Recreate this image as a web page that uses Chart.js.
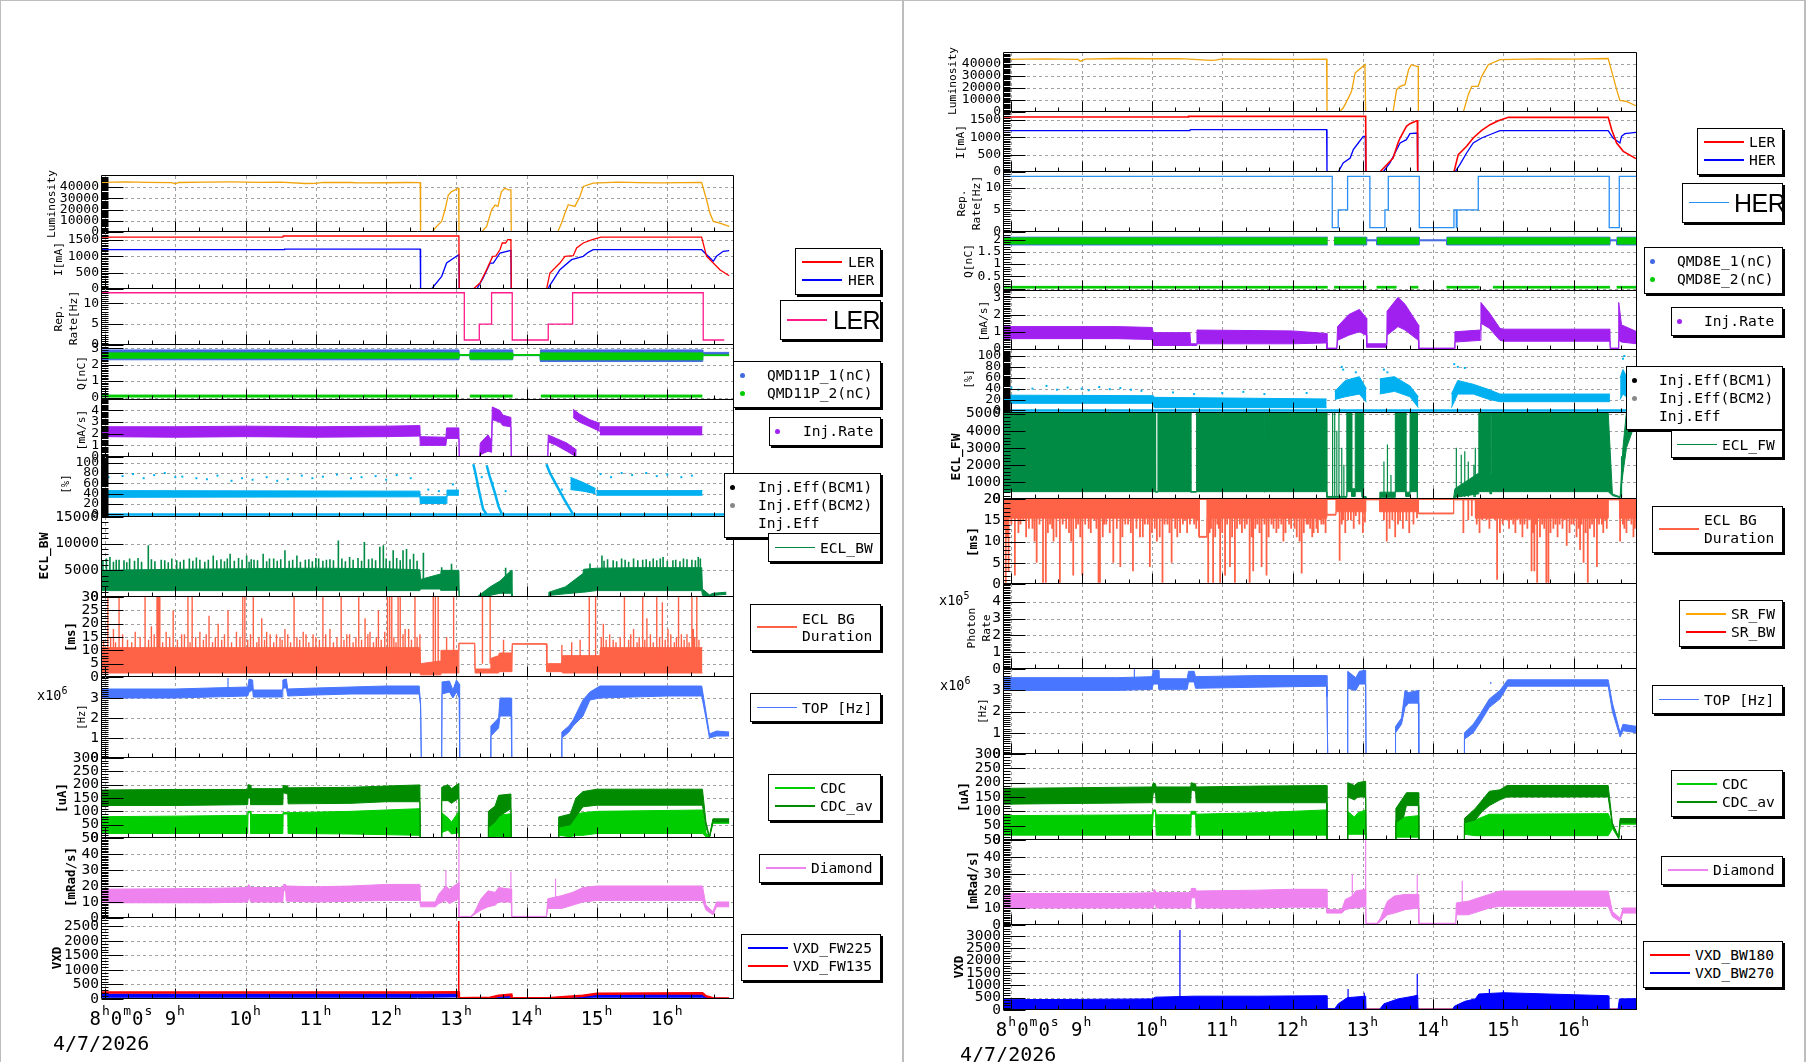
<!DOCTYPE html>
<html>
<head>
<meta charset="utf-8">
<script src="https://cdn.jsdelivr.net/npm/chart.js@4.4.1/dist/chart.umd.min.js"></script>
<style>
  body { margin:0; width:1806px; height:1062px; position:relative; overflow:hidden; background:#fff; font-family:"DejaVu Sans Mono", monospace; }
  canvas { position:absolute; }
  .edge { position:absolute; background:#bdbdbd; }
  .ytitle { position:absolute; white-space:pre; text-align:center; line-height:1.3; transform:translate(-50%,-50%) rotate(-90deg); color:#000; }
  .leg { position:absolute; box-sizing:border-box; background:#fff; border:1px solid #000; box-shadow:2px 2px 0 #000; }
  .lt { position:absolute; white-space:pre; line-height:1; transform:translateY(-50%); font-size:14.6px; color:#000; }
  .mul { position:absolute; font-size:13.5px; line-height:1; }
  .mul sup { font-size:10px; vertical-align:6px; }
</style>
</head>
<body>
<script>
// ---- time range of each column (hours) and hour labels ----
const tRangeL = [7.943, 16.949];
const tRangeR = [7.881, 16.90];
const hourLabels = [9, 10, 11, 12, 13, 14, 15, 16];
const dateLabel = '4/7/2026';

// ---- y tick labels ----
const yLum = [0, 10000, 20000, 30000, 40000];
const yCur = [0, 500, 1000, 1500];
const yRep = [0, 5, 10];
const yQL = [0, 1, 2, 3];
const yQR = [0, 0.5, 1, 1.5, 2];
const yInjL = [0, 1, 2, 3, 4];
const yInjR = [0, 1, 2, 3];
const yEff = [0, 20, 40, 60, 80, 100];
const yEclL = [0, 5000, 10000, 15000];
const yEclR = [0, 1000, 2000, 3000, 4000, 5000];
const yDurL = [0, 5, 10, 15, 20, 25, 30];
const yDurR = [0, 5, 10, 15, 20];
const yPhot = [0, 1, 2, 3, 4];
const yTop = [0, 1, 2, 3];
const yCdc = [0, 50, 100, 150, 200, 250, 300];
const yDia = [0, 10, 20, 30, 40, 50];
const yVxdL = [0, 500, 1000, 1500, 2000, 2500];
const yVxdR = [0, 500, 1000, 1500, 2000, 2500, 3000];

// ================= LEFT column =================
const lumL = [[7.943,44300],[8.3,44600],[8.6,44200],[8.95,44000],[9.0,43000],[9.05,44100],[9.4,44500],[9.8,44600],[10.2,44300],[10.5,44400],[10.85,43200],[11.0,43400],[11.1,44300],[11.5,44100],[11.6,43800],[12.0,43900],[12.3,44100],[12.485,44000],[12.49,0],[12.656,0],[12.718,5000],[12.789,9500],[12.837,19800],[12.884,33000],[12.931,36000],[13.03,39000],[13.036,0],[13.358,0],[13.43,5000],[13.5,19800],[13.55,24000],[13.59,22800],[13.64,36000],[13.69,39000],[13.74,37600],[13.775,37600],[13.78,0],[14.44,0],[14.496,8000],[14.544,16900],[14.591,24300],[14.686,22800],[14.757,31700],[14.804,40600],[14.946,43500],[15.3,44400],[15.6,44000],[15.9,43800],[16.2,44000],[16.488,44300],[16.559,28700],[16.606,16900],[16.654,9500],[16.748,8000],[16.881,5000]];
const lerL = [[7.943,1580],[10.53,1580],[10.535,1612],[13.035,1612],[13.04,0],[13.24,0],[13.335,180],[13.43,590],[13.515,990],[13.56,1000],[13.62,1200],[13.652,1400],[13.7,1400],[13.73,1500],[13.775,1500],[13.78,0],[14.283,0],[14.33,487],[14.472,790],[14.544,994],[14.662,1014],[14.71,1247],[14.804,1400],[14.932,1500],[15.056,1580],[16.488,1580],[16.559,994],[16.654,790],[16.748,588],[16.88,405]];
const herL = [[7.943,1197],[10.55,1197],[10.555,1210],[12.485,1210],[12.49,0],[12.647,0],[12.79,385],[12.86,790],[13.0,994],[13.035,1045],[13.04,0],[13.29,0],[13.38,335],[13.48,790],[13.525,790],[13.62,1095],[13.775,1176],[13.78,0],[14.307,0],[14.32,80],[14.472,588],[14.638,892],[14.804,994],[14.875,1115],[14.946,1196],[16.488,1196],[16.583,994],[16.654,842],[16.7,994],[16.796,1146],[16.88,1166]];
const repL = [[7.943,12.5],[13.112,12.5],[13.112,1.2],[13.325,1.2],[13.325,5],[13.5,5],[13.5,12.5],[13.794,12.5],[13.794,1.2],[14.306,1.2],[14.306,5],[14.653,5],[14.653,12.5],[16.511,12.5],[16.511,1.2],[16.81,1.2]];
// [t, lo, hi]
const qL1 = [[7.943,2.3,2.9],[13.036,2.3,2.9],[13.04,2.55,2.6],[13.19,2.55,2.6],[13.195,2.3,2.9],[13.8,2.3,2.9],[13.805,2.55,2.6],[14.19,2.55,2.6],[14.195,2.2,2.9],[16.5,2.2,2.9],[16.505,2.6,2.75],[16.88,2.6,2.75]];
const qL2 = [[7.943,2.4,2.72],[13.036,2.4,2.72],[13.04,2.57,2.62],[13.19,2.57,2.62],[13.195,2.35,2.72],[13.8,2.35,2.72],[13.805,2.57,2.62],[14.19,2.57,2.62],[14.195,2.3,2.72],[16.5,2.3,2.72],[16.505,2.55,2.6],[16.88,2.55,2.6]];
const qL2low = [[7.943,0.03,0.15],[13.035,0.03,0.15],[13.04,null,null],[13.19,null,null],[13.19,0.03,0.15],[13.8,0.03,0.15],[13.805,null,null],[14.2,null,null],[14.2,0.03,0.15],[16.5,0.03,0.15]];
const injL = [[7.943,1.75,2.6],[9.0,1.7,2.6],[10.0,1.75,2.65],[11.0,1.7,2.6],[12.0,1.75,2.65],[12.48,1.8,2.7],[12.485,1.0,1.75],[12.85,1.0,1.7],[12.86,1.6,2.5],[13.035,1.6,2.5],[13.04,0,0.05],[13.33,0,0.05],[13.34,0.2,1.2],[13.45,0.5,1.9],[13.5,0.4,1.4],[13.51,3.2,4.3],[13.62,3.0,4.0],[13.66,2.7,3.6],[13.775,2.6,3.4],[13.78,0,0.05],[14.3,0,0.05],[14.306,1.3,1.9],[14.42,1.0,1.6],[14.57,0.5,1.2],[14.71,0,0.6],[14.72,null,null],[15.04,null,null],[15.04,1.9,2.6],[16.5,1.9,2.6]];
const injL2 = [[14.66,3.4,4.1],[14.75,3.0,3.7],[14.9,2.6,3.2],[15.04,2.2,2.9]];
const effL = [[7.943,33,46],[12.48,34,45],[12.485,21,34],[12.86,21,34],[12.865,37,47],[13.035,37,47],[13.04,null,null],[14.99,null,null],[14.99,37,46],[16.5,37,46]];
const effLc = [[14.62,48,72],[14.8,45,62],[14.98,40,50]];
const effLs1 = [[13.24,97],[13.27,80],[13.33,40],[13.38,10],[13.43,0]];
const effLs2 = [[13.43,95],[13.47,75],[13.55,40],[13.6,15],[13.65,0]];
const effLs3 = [[14.28,97],[14.33,80],[14.45,50],[14.55,25],[14.66,0]];
const effLbase = [[7.943,0],[16.84,0]];
const effLdots = [[8.05,72],[8.25,74],[8.4,78],[8.55,70],[8.7,76],[8.85,80],[9.0,72],[9.1,73],[9.3,70],[9.45,68],[9.6,75],[9.8,65],[9.95,70],[10.1,67],[10.3,72],[10.45,65],[10.6,68],[10.8,75],[10.95,70],[11.1,73],[11.3,77],[11.5,70],[11.65,72],[11.85,74],[12.0,67],[12.15,76],[12.35,70],[12.6,48],[12.75,45],[12.95,58],[13.3,55],[13.36,72],[13.52,60],[13.7,45],[14.4,62],[14.5,48],[15.05,78],[15.2,72],[15.35,80],[15.5,76],[15.7,80],[15.85,74],[16.0,77],[16.2,72],[16.35,75]];
const eclL = [[7.943,1200,5000],[9.0,1200,5200],[10.0,1200,5300],[11.0,1200,5400],[12.0,1200,5300],[12.48,1200,5100],[12.49,1500,3300],[12.77,1500,4300],[12.78,1250,5000],[13.035,1250,5000],[13.04,0,0],[13.29,0,0],[13.35,100,600],[13.48,300,1900],[13.62,700,3000],[13.78,700,5000],[13.79,0,0],[14.31,0,0],[14.315,300,900],[14.55,600,1900],[14.8,900,4400],[14.81,900,5200],[14.99,1200,5400],[15.5,1200,5500],[16.0,1200,5500],[16.49,1200,5500],[16.5,300,1500],[16.6,100,400],[16.65,300,700],[16.84,500,900]];
const eclLspk = [[7.97,6800],[8.02,7200],[8.07,7500],[8.12,6600],[8.16,7000],[8.2,7000],[8.27,6900],[8.31,6500],[8.35,7200],[8.42,6800],[8.47,7300],[8.52,6600],[8.616,9690],[8.66,7100],[8.71,6700],[8.8,7000],[8.85,6900],[8.9,6500],[8.95,7200],[9.02,6900],[9.07,6600],[9.12,7000],[9.2,7200],[9.25,6800],[9.3,7400],[9.35,7000],[9.42,6600],[9.47,7000],[9.54,7800],[9.59,6900],[9.65,7100],[9.7,6700],[9.74,7200],[9.78,8100],[9.84,6800],[9.9,7300],[9.95,7000],[10.015,7800],[10.05,6600],[10.08,7100],[10.12,7000],[10.17,6900],[10.25,8100],[10.3,6700],[10.34,7200],[10.4,7200],[10.45,6800],[10.5,7100],[10.56,8750],[10.62,6800],[10.67,7000],[10.73,7800],[10.78,6600],[10.85,7000],[10.9,7100],[10.95,6700],[11.0,7300],[11.04,7200],[11.1,6800],[11.15,7000],[11.2,7100],[11.25,6900],[11.32,10600],[11.37,7200],[11.42,6700],[11.48,7500],[11.53,7000],[11.6,7300],[11.65,6800],[11.69,10300],[11.75,7100],[11.8,7200],[11.85,6900],[11.91,9400],[11.96,9700],[12.0,7200],[12.05,6800],[12.1,8750],[12.15,7300],[12.2,6900],[12.24,8750],[12.29,9000],[12.34,7100],[12.39,8100],[12.44,6800],[12.53,8300],[12.79,5600],[12.93,6250],[13.7,5500],[14.9,6300],[15.07,7800],[15.1,6800],[15.15,7100],[15.23,6900],[15.28,6700],[15.35,7200],[15.4,7000],[15.45,6600],[15.52,7200],[15.58,6900],[15.65,7000],[15.7,7100],[15.75,6700],[15.8,7200],[15.85,6900],[15.9,7200],[15.94,7500],[16.0,6800],[16.08,6900],[16.12,7000],[16.18,6700],[16.23,7200],[16.28,7100],[16.35,7000],[16.4,6900],[16.44,7500],[16.47,7200]];
const durL = [[7.943,1.5,11],[12.48,1.5,11],[12.49,0.8,5],[12.77,0.8,6],[12.78,1.5,10],[13.03,1.5,10],[13.035,12.5,12.7],[13.26,12.5,12.7],[13.265,1.5,3],[13.48,1.5,3],[13.49,1.5,7],[13.6,1.5,8],[13.61,2,9],[13.79,2,9],[13.795,12.3,12.5],[14.28,12.3,12.5],[14.285,2,5],[14.5,2,5],[14.51,1.5,8],[15.04,1.5,8],[15.05,1.5,11],[16.5,1.5,11]];
const durLspk = [[7.98,14],[8.04,30],[8.08,15],[8.12,18],[8.15,13],[8.2,30],[8.25,16],[8.32,14],[8.38,13],[8.43,17],[8.5,15],[8.57,30],[8.62,14],[8.66,19],[8.7,16],[8.74,30],[8.76,30],[8.78,30],[8.82,13],[8.87,17],[8.92,15],[8.97,25],[9.03,14],[9.09,16],[9.13,16],[9.18,30],[9.21,13],[9.24,30],[9.29,15],[9.35,17],[9.4,14],[9.44,16],[9.48,23],[9.53,13],[9.57,15],[9.61,20],[9.66,14],[9.7,16],[9.75,25],[9.8,13],[9.87,17],[9.92,15],[9.96,30],[9.99,30],[10.03,14],[10.07,16],[10.11,30],[10.16,13],[10.19,15],[10.23,22],[10.27,14],[10.3,17],[10.35,16],[10.4,13],[10.44,16],[10.49,15],[10.52,14],[10.56,18],[10.6,16],[10.64,13],[10.69,30],[10.73,15],[10.77,14],[10.82,17],[10.86,16],[10.9,13],[10.96,16],[11.0,15],[11.05,14],[11.1,30],[11.14,16],[11.2,18],[11.25,13],[11.3,15],[11.36,30],[11.4,14],[11.44,16],[11.48,16],[11.53,13],[11.57,15],[11.61,30],[11.65,14],[11.7,22],[11.74,16],[11.77,17],[11.82,13],[11.86,15],[11.89,25],[11.93,14],[11.98,17],[12.02,30],[12.05,30],[12.08,30],[12.11,15],[12.14,13],[12.17,30],[12.2,30],[12.24,16],[12.27,18],[12.32,18],[12.36,14],[12.41,30],[12.44,15],[12.48,16],[12.67,30],[12.7,30],[12.74,30],[12.86,15],[12.96,30],[13.37,30],[13.48,30],[13.67,14],[14.5,12],[14.64,13],[14.76,14],[14.89,30],[14.98,30],[15.06,15],[15.09,20],[15.13,14],[15.18,16],[15.23,14],[15.27,13],[15.33,15],[15.39,30],[15.45,14],[15.48,16],[15.52,18],[15.57,13],[15.6,15],[15.65,30],[15.68,14],[15.71,22],[15.76,16],[15.8,13],[15.85,30],[15.89,15],[15.93,28],[15.97,14],[16.01,18],[16.05,16],[16.1,13],[16.13,15],[16.16,30],[16.2,16],[16.24,14],[16.28,16],[16.31,13],[16.35,30],[16.37,18],[16.39,15],[16.42,30],[16.45,14]];
// TOP in units of 1e6 Hz
const topL = [[7.943,3.0,3.45],[9.0,3.0,3.45],[9.5,3.05,3.5],[10.03,3.1,3.55],[10.05,3.3,3.95],[10.1,3.4,3.9],[10.11,3.05,3.4],[10.52,3.05,3.4],[10.53,3.5,3.9],[10.58,3.5,3.95],[10.6,3.1,3.45],[11.0,3.15,3.5],[11.5,3.2,3.55],[12.0,3.2,3.6],[12.47,3.2,3.6],[12.49,2.6,2.7],[12.5,0,0],[12.79,0,0],[12.795,3.2,3.8],[12.9,3.3,3.85],[12.95,3.0,3.4],[13.0,3.3,3.9],[13.04,3.0,3.7],[13.045,0,0],[13.48,0,0],[13.49,1.1,1.6],[13.6,1.5,2.0],[13.62,2.1,3.0],[13.78,2.1,3.0],[13.785,0,0],[14.49,0,0],[14.5,1.0,1.3],[14.6,1.3,1.6],[14.66,1.6,1.9],[14.8,2.1,2.9],[14.9,2.9,3.3],[15.04,3.0,3.6],[15.5,3.05,3.6],[16.0,3.1,3.6],[16.49,3.1,3.6],[16.55,2.0,2.3],[16.6,1.0,1.2],[16.7,1.1,1.35],[16.88,1.1,1.3]];
const topLspk = [[9.75,4.0]];
const cdcavL = [[7.943,122,180],[9.0,122,182],[10.03,125,182],[10.035,150,200],[10.07,150,198],[10.075,125,185],[10.53,125,185],[10.535,170,197],[10.6,165,195],[10.605,128,188],[11.5,130,190],[12.0,136,195],[12.48,136,199],[12.485,0,0],[12.787,0,0],[12.79,140,190],[12.88,140,200],[12.93,130,185],[13.035,150,205],[13.04,0,0],[13.45,0,0],[13.455,40,100],[13.55,60,120],[13.6,80,160],[13.775,110,165],[13.78,0,0],[14.45,0,0],[14.455,41,79],[14.62,50,90],[14.7,80,150],[14.8,117,174],[15.0,123,183],[16.5,123,183],[16.55,40,60],[16.6,2,5],[16.65,60,72],[16.88,60,72]];
const cdcL = [[7.943,17,80],[9.0,17,82],[10.03,17,85],[10.035,95,100],[10.07,95,100],[10.075,17,88],[10.53,17,88],[10.535,90,96],[10.6,90,96],[10.605,17,95],[11.5,15,100],[12.48,10,110],[12.485,0,0],[12.787,0,0],[12.79,20,95],[12.88,30,75],[12.93,15,60],[13.035,20,100],[13.04,0,0],[13.45,0,0],[13.455,3,70],[13.6,5,85],[13.775,3,91],[13.78,0,0],[14.45,0,0],[14.455,10,65],[14.62,5,70],[14.7,10,90],[14.8,10,95],[15.0,17,100],[16.5,17,105],[16.55,5,20],[16.6,2,5],[16.65,55,70],[16.88,55,70]];
const diaL = [[7.943,9.5,18],[9.5,9.5,18.5],[10.03,10,19],[10.04,12,21],[10.06,12,20],[10.07,10,19],[10.53,10,19],[10.54,17,21],[10.57,17,21],[10.58,10.5,20],[11.0,10,19.5],[11.5,10.5,20],[12.0,11,21],[12.48,11,21],[12.49,7,10],[12.7,7,10],[12.75,9,15],[12.85,11,20],[12.9,9,18],[13.03,12,22],[13.035,0.5,1],[13.2,0.5,1],[13.25,2,3],[13.35,5,12],[13.45,7,17],[13.55,8,16],[13.6,10,19],[13.78,10,18],[13.785,0.5,1],[14.28,0.5,1],[14.3,6,12],[14.5,6,14],[14.65,8,16],[14.8,10,19],[15.0,11,20],[16.5,11,20],[16.55,5,8],[16.65,2,4],[16.7,7,10],[16.88,7,10]];
const diaLspk = [[12.85,30],[13.035,50],[13.775,29],[14.41,24.6]];
const vxdLblue = [[7.943,60,170],[12.48,60,175],[13.03,70,180],[13.035,20,30],[13.48,20,40],[13.5,40,80],[13.78,60,130],[13.785,20,30],[14.3,20,30],[14.45,30,60],[14.8,50,100],[14.95,60,150],[16.5,60,150],[16.6,20,40],[16.88,10,20]];
const vxdLred = [[7.943,225],[12.48,225],[13.03,230],[13.035,30],[13.48,40],[13.6,110],[13.78,150],[13.785,25],[14.3,25],[14.5,60],[14.8,110],[15.0,180],[16.5,200],[16.55,100],[16.65,30],[16.88,20]];
const vxdLspk = [[13.033,2680]];

// ================= RIGHT column =================
const lumR = [[7.881,43600],[8.5,44000],[8.95,43500],[8.98,42000],[9.05,43800],[9.5,44300],[10.0,44100],[10.4,44200],[10.85,42800],[10.92,43200],[11.0,44000],[11.5,43700],[12.0,43500],[12.485,43800],[12.49,0],[12.665,0],[12.72,3300],[12.77,8800],[12.84,17100],[12.89,32300],[12.935,34500],[13.03,39200],[13.04,0],[13.43,0],[13.48,18500],[13.53,21250],[13.6,22600],[13.65,35000],[13.69,39200],[13.765,37800],[13.788,37800],[13.79,0],[14.43,0],[14.5,14350],[14.55,21250],[14.64,21250],[14.69,29500],[14.785,39200],[14.95,43300],[15.5,44000],[16.0,43800],[16.49,44300],[16.56,29500],[16.61,18500],[16.657,9660],[16.75,8800],[16.885,5200]];
const lerR = [[7.881,1577],[10.517,1577],[10.52,1596],[13.04,1596],[13.045,0],[13.243,0],[13.34,210],[13.43,400],[13.5,832],[13.53,975],[13.62,1310],[13.67,1386],[13.765,1472],[13.775,1472],[13.78,0],[14.296,0],[14.357,497],[14.476,736],[14.57,975],[14.69,1195],[14.81,1357],[14.926,1472],[15.07,1568],[16.49,1568],[16.54,1214],[16.61,832],[16.705,593],[16.885,382]];
const herR = [[7.881,1185],[10.54,1185],[10.545,1214],[12.485,1214],[12.49,0],[12.65,0],[12.72,258],[12.82,400],[12.864,640],[12.935,832],[13.006,1023],[13.035,1023],[13.04,0],[13.29,0],[13.385,258],[13.48,640],[13.53,832],[13.62,927],[13.67,1100],[13.775,1118],[13.78,0],[14.31,0],[14.38,210],[14.476,545],[14.57,832],[14.69,975],[14.83,1090],[14.95,1185],[16.49,1185],[16.56,975],[16.657,832],[16.68,1023],[16.728,1100],[16.885,1138]];
const repR = [[7.881,12.5],[12.565,12.5],[12.565,1],[12.65,1],[12.65,5],[12.783,5],[12.783,12.5],[13.1,12.5],[13.1,1],[13.314,1],[13.314,5],[13.362,5],[13.362,12.5],[13.803,12.5],[13.803,1],[14.296,1],[14.296,5],[14.33,5],[14.33,1],[14.34,1],[14.34,5],[14.642,5],[14.642,12.5],[16.505,12.5],[16.505,1],[16.648,1],[16.648,12.5],[16.9,12.5]];
const qR1 = [[7.881,1.78,2.1],[12.5,1.78,2.1],[12.505,null,null],[12.59,null,null],[12.59,1.78,2.1],[13.05,1.78,2.1],[13.055,1.95,1.99],[13.195,1.95,1.99],[13.2,1.78,2.1],[13.8,1.78,2.1],[13.805,1.95,1.99],[14.19,1.95,1.99],[14.195,1.78,2.1],[16.515,1.78,2.1],[16.52,1.95,1.99],[16.61,1.95,1.99],[16.615,1.78,2.1],[16.9,1.78,2.1]];
const qR2 = [[7.881,1.82,2.07],[12.5,1.82,2.07],[12.505,null,null],[12.59,null,null],[12.59,1.82,2.07],[13.05,1.82,2.07],[13.055,null,null],[13.195,null,null],[13.2,1.82,2.07],[13.8,1.82,2.07],[13.805,null,null],[14.19,null,null],[14.195,1.82,2.07],[16.515,1.82,2.07],[16.52,null,null],[16.61,null,null],[16.615,1.82,2.07],[16.9,1.82,2.07]];
const qR2low = [[7.881,0.02,0.09],[12.5,0.02,0.09],[12.505,null,null],[12.59,null,null],[12.59,0.02,0.09],[13.05,0.02,0.09],[13.06,null,null],[13.195,null,null],[13.195,0.02,0.09],[13.48,0.02,0.09],[13.49,null,null],[13.67,null,null],[13.67,0.02,0.09],[13.79,0.02,0.09],[13.8,null,null],[14.19,null,null],[14.19,0.02,0.09],[14.66,0.02,0.09],[14.67,null,null],[14.85,null,null],[14.85,0.02,0.09],[16.515,0.02,0.09],[16.52,null,null],[16.61,null,null],[16.61,0.02,0.09],[16.9,0.02,0.09]];
const injR = [[7.885,0.6,1.3],[9.5,0.6,1.3],[10.0,0.55,1.25],[10.02,0.2,0.95],[10.54,0.2,0.95],[10.55,0.2,0.3],[10.63,0.2,0.3],[10.64,0.3,1.1],[12.0,0.3,1.05],[12.485,0.35,0.9],[12.49,0,0.05],[12.63,0,0.05],[12.64,0.5,1.3],[12.8,0.8,2.0],[12.95,1.0,2.3],[13.05,0.8,1.8],[13.055,0.1,0.3],[13.34,0.1,0.3],[13.345,0.8,2.2],[13.5,1.3,3.0],[13.6,1.1,2.6],[13.79,0.5,1.4],[13.795,0,0.05],[14.3,0,0.05],[14.31,0.4,1.0],[14.67,0.5,1.1],[14.68,1.5,2.7],[14.8,1.2,2.1],[14.95,0.5,1.2],[15.0,0.45,1.15],[16.515,0.45,1.15],[16.52,0,0.05],[16.63,0,0.05],[16.64,0.5,2.7],[16.68,0.4,1.4],[16.9,0.3,1.0]];
const effR = [[7.885,13,28],[10.02,13,27],[10.03,5,24],[12.485,5,21],[12.49,null,null],[12.6,20,35],[12.75,25,55],[12.95,30,62],[13.05,15,40],[13.055,null,null],[13.24,30,58],[13.45,35,62],[13.67,25,45],[13.79,5,25],[13.795,null,null],[14.26,5,30],[14.35,30,55],[14.57,30,48],[14.8,20,38],[14.95,16,30],[16.515,16,30],[16.52,null,null],[16.66,20,60],[16.7,30,75],[16.8,20,50],[16.88,10,30]];
const effRbase = [[7.881,0],[16.9,0]];
const effRdots = [[8.0,42],[8.1,38],[8.3,40],[8.5,45],[8.65,38],[8.8,42],[9.0,40],[9.1,37],[9.25,43],[9.4,39],[9.55,41],[9.7,38],[9.85,36],[10.3,33],[10.6,30],[11.0,32],[11.3,34],[11.6,30],[12.2,32],[12.7,80],[12.72,75],[12.9,70],[13.3,75],[13.35,70],[14.3,85],[14.35,80],[14.45,78],[16.7,95],[16.72,100]];
const eclR = [[7.885,430,5100],[10.05,430,5100],[10.052,400,440],[10.083,400,440],[10.085,430,5100],[10.55,430,5100],[10.553,400,440],[10.633,400,440],[10.635,430,5100],[11.595,430,5100],[11.597,400,440],[11.605,400,440],[11.607,430,5100],[12.485,430,5100],[12.487,100,150],[12.77,100,150],[12.772,430,5100],[12.84,430,5100],[12.842,150,600],[12.89,150,600],[12.892,430,5100],[12.99,430,5100],[12.992,100,150],[13.04,100,150],[13.042,0,20],[13.24,0,20],[13.242,100,400],[13.46,100,400],[13.462,430,5100],[13.61,430,5100],[13.612,150,400],[13.67,150,400],[13.672,430,5100],[13.775,430,5100],[13.777,0,20],[14.29,0,20],[14.31,100,600],[14.64,300,1500],[14.65,430,5100],[14.81,430,5100],[14.812,300,1500],[14.83,300,1500],[14.832,430,5100],[16.49,430,5100],[16.55,200,300],[16.66,80,120],[16.7,1500,3000],[16.75,3000,5100],[16.88,4500,5100]];
const eclRspk = [[12.57,5100],[12.6,5100],[12.63,4000],[12.66,5100],[12.7,3000],[12.73,2000],[13.01,5100],[13.3,2200],[13.35,3200],[13.4,1400],[14.33,3000],[14.4,2600],[14.45,2800],[14.5,2200],[14.58,2000],[14.6,3000],[16.68,2500]];
const durR = [[7.885,15.5,20],[10.67,15.5,20],[10.672,11,11.2],[10.78,11,11.2],[10.782,15.5,20],[12.485,15.5,20],[12.487,16.2,16.4],[12.615,16.2,16.4],[12.617,17,20],[13.04,17,20],[13.042,19.8,20],[13.24,19.8,20],[13.242,17,20],[13.79,17,20],[13.792,16.5,16.7],[14.29,16.5,16.7],[14.292,19.8,20],[14.6,19.8,20],[14.602,15.5,20],[16.49,15.5,20],[16.492,19.8,20],[16.65,19.8,20],[16.652,15.5,20],[16.9,15.5,20]];
const durRspk = [[7.9,13],[7.92,0.3],[7.94,11],[7.96,3],[8.0,14],[8.05,2],[8.1,12],[8.13,14],[8.17,15],[8.21,11],[8.25,13],[8.3,13],[8.33,10],[8.36,5],[8.4,14],[8.45,0.3],[8.49,0.3],[8.52,12],[8.55,14],[8.58,13],[8.6,10],[8.64,11],[8.69,0.3],[8.73,14],[8.78,13],[8.82,12],[8.85,10],[8.88,2],[8.92,13],[8.95,14],[8.98,11],[9.01,2],[9.05,14],[9.1,13],[9.13,12],[9.18,15],[9.21,13],[9.24,0.3],[9.26,0.3],[9.3,11],[9.32,14],[9.35,14],[9.4,12],[9.45,5],[9.5,13],[9.55,4],[9.58,11],[9.62,14],[9.66,14],[9.7,12],[9.73,3],[9.78,13],[9.83,11],[9.87,11],[9.9,14],[9.94,14],[9.97,4],[10.0,12],[10.04,13],[10.07,10],[10.11,11],[10.15,0.3],[10.18,14],[10.22,14],[10.25,12],[10.28,5],[10.33,13],[10.36,11],[10.4,12],[10.44,14],[10.47,15],[10.5,12],[10.54,14],[10.6,14],[10.63,13],[10.65,15],[10.8,0.3],[10.82,12],[10.84,13],[10.87,0.3],[10.9,11],[10.93,14],[10.95,13],[10.97,0.3],[11.0,12],[11.04,2],[11.07,14],[11.11,4],[11.14,11],[11.18,0.3],[11.21,13],[11.25,14],[11.28,12],[11.32,13],[11.35,14],[11.39,0.3],[11.42,11],[11.44,3],[11.47,13],[11.5,14],[11.53,12],[11.56,4],[11.6,14],[11.63,2],[11.66,11],[11.7,14],[11.73,13],[11.77,12],[11.8,13],[11.84,14],[11.87,10],[11.9,12],[11.95,14],[11.98,13],[12.03,13],[12.06,11],[12.1,10],[12.13,2.5],[12.16,12],[12.2,14],[12.22,14],[12.25,13],[12.28,11],[12.3,12],[12.34,13],[12.36,12],[12.39,15],[12.41,14],[12.44,14],[12.47,12],[12.67,5.5],[12.7,14],[12.72,15],[12.75,12],[12.79,15],[12.83,15],[12.87,13],[12.9,16],[12.95,14],[13.0,12],[13.03,14.5],[13.3,15],[13.34,10],[13.38,13],[13.42,15],[13.46,11],[13.5,14],[13.53,15],[13.57,13],[13.62,15],[13.66,12],[13.72,14],[13.77,15.5],[14.43,12],[14.5,15],[14.55,16],[14.62,14],[14.66,12],[14.7,15],[14.76,15],[14.8,13],[14.85,16],[14.88,15],[14.91,1],[14.95,12],[14.99,14],[15.02,15],[15.05,15],[15.08,13],[15.11,15],[15.14,14],[15.17,12],[15.2,15],[15.24,14],[15.27,11],[15.3,14],[15.34,13],[15.37,15],[15.4,3],[15.42,12],[15.44,3],[15.46,14],[15.48,0.3],[15.52,11],[15.55,14],[15.58,13],[15.61,0.3],[15.64,0.3],[15.67,12],[15.71,13],[15.74,14],[15.77,11],[15.8,14],[15.84,13],[15.87,15],[15.9,9],[15.94,12],[15.97,14],[16.0,14],[16.04,11],[16.07,13],[16.09,8],[16.11,14],[16.14,5],[16.17,12],[16.2,0.3],[16.23,13],[16.26,14],[16.29,11],[16.33,4],[16.36,14],[16.4,14],[16.42,12],[16.45,15],[16.47,13],[16.66,10],[16.7,14],[16.72,13],[16.75,12],[16.78,15],[16.82,14],[16.85,11],[16.87,13]];
// photon rate in units of 1e5
const srFw = [[7.881,0],[16.9,0]];
const srBw = [[7.881,0],[16.9,0]];
const topR = [[7.885,3.0,3.6],[9.5,3.0,3.6],[10.0,3.05,3.65],[10.02,3.3,3.95],[10.09,3.3,3.95],[10.1,3.05,3.55],[10.5,3.05,3.55],[10.52,3.4,3.9],[10.6,3.4,3.9],[10.62,3.1,3.65],[11.5,3.15,3.7],[12.485,3.2,3.7],[12.49,2.7,2.75],[12.5,0,0],[12.78,0,0],[12.785,3.1,3.9],[12.9,3.0,3.6],[12.95,3.3,3.9],[13.04,3.3,3.95],[13.045,0,0],[13.46,0,0],[13.465,1.0,1.3],[13.55,1.4,1.7],[13.6,2.2,3.0],[13.65,2.4,2.9],[13.79,2.4,3.0],[13.795,0,0],[14.44,0,0],[14.445,0.7,1.0],[14.57,1.0,1.4],[14.67,1.5,1.9],[14.8,2.2,2.6],[14.95,2.6,3.0],[15.06,3.2,3.5],[16.49,3.2,3.5],[16.55,2.0,2.4],[16.66,0.8,1.0],[16.7,1.1,1.4],[16.9,1.0,1.3]];
const topRspk = [[9.75,4.0],[14.82,3.4]];
const cdcavR = [[7.885,125,180],[10.0,130,185],[10.02,165,200],[10.05,165,195],[10.06,130,185],[10.55,130,185],[10.56,175,200],[10.62,170,195],[10.63,130,185],[11.5,130,188],[12.485,130,190],[12.49,0,0],[12.78,0,0],[12.785,150,200],[12.88,140,190],[12.93,150,200],[13.04,150,205],[13.045,0,0],[13.46,0,0],[13.47,60,110],[13.58,80,150],[13.62,120,165],[13.79,120,165],[13.795,0,0],[14.44,0,0],[14.445,60,75],[14.6,70,110],[14.7,100,140],[14.8,120,170],[14.95,140,175],[15.05,150,190],[16.49,150,190],[16.55,50,60],[16.64,5,10],[16.66,60,75],[16.9,60,75]];
const cdcR = [[7.885,17,85],[10.0,17,88],[10.02,100,105],[10.05,100,105],[10.06,17,88],[10.55,17,88],[10.56,90,100],[10.62,90,100],[10.63,17,90],[11.5,17,95],[12.485,17,105],[12.49,0,0],[12.78,0,0],[12.785,20,100],[12.88,20,80],[12.93,20,95],[13.04,20,105],[13.045,0,0],[13.46,0,0],[13.47,10,70],[13.6,10,80],[13.79,10,85],[13.795,0,0],[14.44,0,0],[14.445,20,60],[14.6,15,70],[14.8,15,90],[14.95,15,90],[16.49,15,92],[16.55,40,55],[16.64,5,10],[16.66,55,70],[16.9,55,70]];
const diaR = [[7.885,10,18.5],[9.5,10,18.5],[10.02,10,19],[10.03,12,21],[10.05,12,20],[10.06,10,19],[10.55,10,19],[10.56,16,21.5],[10.62,16,21.5],[10.63,10,20],[11.5,10,20.5],[12.0,10.5,21],[12.485,10.5,21],[12.49,7,9],[12.7,7,9],[12.75,9,15],[12.85,10,17],[12.9,10,20],[13.04,11,21],[13.045,0.5,1],[13.2,0.5,1],[13.25,2,4],[13.35,6,14],[13.45,7,17],[13.6,9,18],[13.79,10,18],[13.795,0.5,1],[14.32,0.5,1],[14.33,6,13],[14.5,6,14],[14.65,8,16],[14.8,10,18],[14.95,11,20],[16.49,11,20],[16.55,5,8],[16.66,2,4],[16.7,7,10],[16.9,7,10]];
const diaRspk = [[12.85,30],[13.04,50],[13.774,29.4],[14.414,26]];
const vxdRblue = [[7.885,0,420],[9.0,0,430],[10.0,0,450],[10.05,0,520],[10.6,0,560],[11.5,0,560],[12.485,0,580],[12.49,0,50],[12.6,0,50],[12.65,0,250],[12.78,0,500],[13.04,0,560],[13.045,0,30],[13.24,0,30],[13.3,0,250],[13.5,0,450],[13.7,0,550],[13.78,0,600],[13.785,0,30],[14.28,0,30],[14.3,0,150],[14.45,0,350],[14.6,0,450],[14.65,0,650],[15.0,0,700],[16.49,0,580],[16.5,0,30],[16.63,0,30],[16.65,0,450],[16.9,0,460]];
const vxdRred = [[7.885,20],[10.55,20],[10.56,150],[10.6,20],[11.0,60],[12.4,80],[12.485,30],[16.65,30],[16.7,120],[16.9,100]];
const vxdRspk = [[10.398,3240],[12.79,850],[13.02,700],[13.774,1456],[14.8,850],[15.0,800]];

// ---- dataset builders ----
const P = (t, v) => ({ x: t, y: v });
function line(rows, color, w) {
  return { data: rows.map(r => P(r[0], r[1])), borderColor: color, borderWidth: w || 1.3, pointRadius: 0, fill: false };
}
function band(rows, color) {
  return [
    { data: rows.map(r => P(r[0], r[1])), borderColor: color, borderWidth: 1, pointRadius: 0, fill: false },
    { data: rows.map(r => P(r[0], r[2])), borderColor: color, borderWidth: 1, pointRadius: 0, fill: '-1', backgroundColor: color }
  ];
}
// vertical spikes from base to value; "joined" ones walk back along the base line
function spikes(rows, base, color, w, joined) {
  const data = rows.flatMap(r => joined ? [P(r[0], base), P(r[0], r[1]), P(r[0], base)] : [P(r[0], base), P(r[0], r[1]), P(r[0], null)]);
  return { data, borderColor: color, borderWidth: w || 1.2, pointRadius: 0, fill: false };
}
function dots(rows, color) {
  return { data: rows.map(r => P(r[0], r[1])), showLine: false, pointRadius: 1.4, pointStyle: 'rect', pointBackgroundColor: color, pointBorderWidth: 0, borderColor: color };
}

const C = {
  lum: '#f0a30a', ler: '#ff0000', her: '#0000ff', repL: '#ff1a8c', repR: '#2a8ff5',
  q1: '#4169e1', q2: '#00cc00', inj: '#a020f0', eff: '#00b0f0', ecl: '#008b45',
  dur: '#ff6347', top: '#4876ff', cdc: '#00cd00', cdcav: '#008b00', dia: '#ee82ee', sr: '#ffa500'
};

// ---- panels (first dataset is drawn on top) ----
const colL = { x0: 0, left: 101, right: 734, t: tRangeL, dateDx: -48 };
const colR = { x0: 903, left: 1003, right: 1637, t: tRangeR, dateDx: -43 };

const panelsL = [
  { y: [176, 232], r: [0, 49900], ticks: yLum, minor: 10, dash: true, sets: [line(lumL, C.lum)] },
  { y: [232, 289], r: [0, 1734], ticks: yCur, minor: 10, dash: true, sets: [line(lerL, C.ler), line(herL, C.her)] },
  { y: [289, 345], r: [0, 13.4], ticks: yRep, minor: 10, sets: [line(repL, C.repL)] },
  { y: [345, 400], r: [-0.15, 3.2], ticks: yQL, minor: 10, sets: [band(qL2, C.q2), band(qL2low, C.q2), band(qL1, C.q1)] },
  { y: [400, 457], r: [0, 4.9], ticks: yInjL, minor: 10, sets: [band(injL2, C.inj), band(injL, C.inj)] },
  { y: [457, 517], r: [-5, 111], ticks: yEff, minor: 10, sets: [dots(effLdots, C.eff), line(effLs1, C.eff, 2.5), line(effLs2, C.eff, 2.5), line(effLs3, C.eff, 2.5), line(effLbase, C.eff, 2.5), band(effLc, C.eff), band(effL, C.eff)] },
  { y: [517, 597], r: [0, 15000], ticks: yEclL, minor: 5, big: true, sets: [spikes(eclLspk, 3000, C.ecl, 1.6), band(eclL, C.ecl)] },
  { y: [597, 677], r: [0, 30], ticks: yDurL, minor: 5, big: true, sets: [spikes(durLspk, 5, C.dur, 1.4), band(durL, C.dur)] },
  { y: [677, 758], r: [0, 4.05], ticks: yTop, minor: 10, big: true, sets: [spikes(topLspk, 3.3, C.top), band(topL, C.top)] },
  { y: [758, 838], r: [0, 300], ticks: yCdc, minor: 5, big: true, sets: [band(cdcavL, C.cdcav), band(cdcL, C.cdc)] },
  { y: [838, 918], r: [0, 50], ticks: yDia, minor: 10, big: true, sets: [spikes(diaLspk, 12, C.dia), band(diaL, C.dia)] },
  { y: [918, 999], r: [0, 2783], ticks: yVxdL, minor: 5, big: true, time: true, sets: [spikes(vxdLspk, 200, C.ler, 1.5), line(vxdLred, C.ler, 2.5), band(vxdLblue, C.her)] }
];

const panelsR = [
  { y: [53, 112], r: [0, 48860], ticks: yLum, minor: 10, dash: true, sets: [line(lumR, C.lum)] },
  { y: [112, 172], r: [0, 1721], ticks: yCur, minor: 10, dash: true, sets: [line(lerR, C.ler, 1.6), line(herR, C.her)] },
  { y: [172, 232], r: [0, 13.5], ticks: yRep, minor: 10, dash: true, sets: [line(repR, C.repR)] },
  { y: [232, 291], r: [-0.1, 2.31], ticks: yQR, minor: 5, sets: [band(qR2low, C.q2), band(qR2, C.q2), band(qR1, C.q1)] },
  { y: [291, 350], r: [-0.06, 3.37], ticks: yInjR, minor: 10, sets: [band(injR, C.inj)] },
  { y: [350, 413], r: [-4.8, 111], ticks: yEff, minor: 10, sets: [dots(effRdots, C.eff), line(effRbase, C.eff, 2.5), band(effR, C.eff)] },
  { y: [413, 499], r: [0, 5040], ticks: yEclR, minor: 5, big: true, sets: [spikes(eclRspk, 120, C.ecl), band(eclR, C.ecl)] },
  { y: [499, 584], r: [0, 20], ticks: yDurR, minor: 5, big: true, sets: [spikes(durRspk, 20, C.dur, 1.8, true), band(durR, C.dur)] },
  { y: [584, 669], r: [0, 5.05], ticks: yPhot, minor: 10, big: true, sets: [line(srFw, C.sr, 1.5), line(srBw, C.ler, 1.5)] },
  { y: [669, 754], r: [0, 4.01], ticks: yTop, minor: 10, big: true, sets: [spikes(topRspk, 3.3, C.top), band(topR, C.top)] },
  { y: [754, 840], r: [0, 300], ticks: yCdc, minor: 5, big: true, sets: [band(cdcavR, C.cdcav), band(cdcR, C.cdc)] },
  { y: [840, 925], r: [0, 50], ticks: yDia, minor: 10, big: true, sets: [spikes(diaRspk, 12, C.dia), band(diaR, C.dia)] },
  { y: [925, 1010], r: [0, 3446], ticks: yVxdR, minor: 5, big: true, time: true, sets: [spikes(vxdRspk, 300, C.her), band(vxdRblue, C.her), line(vxdRred, C.ler, 1.5)] }
];

// ROOT-like frame: dashed grid, inner ticks, frame, time labels
const rootFrame = {
  id: 'rootFrame',
  beforeDatasetsDraw(chart) {
    const { ctx, chartArea: a, scales: { x, y } } = chart;
    ctx.save();
    ctx.strokeStyle = '#a0a0a0'; ctx.lineWidth = 1; ctx.setLineDash([3, 3]);
    ctx.beginPath();
    for (let h = Math.ceil(x.min); h <= x.max; h++) {
      const px = Math.round(x.getPixelForValue(h)) + 0.5;
      ctx.moveTo(px, a.top); ctx.lineTo(px, a.bottom);
    }
    for (const t of y.ticks) {
      if (t.value <= y.min || t.value >= y.max) continue;
      const py = Math.round(y.getPixelForValue(t.value)) + 0.5;
      ctx.moveTo(a.left, py); ctx.lineTo(a.right, py);
    }
    ctx.stroke();
    ctx.restore();
  },
  afterDatasetsDraw(chart, args, o) {
    const { ctx, chartArea: a, scales: { x, y } } = chart;
    const L = Math.round(a.left) + 0.5, R = Math.round(a.right) - 0.5;
    const T = Math.round(a.top) - 0.5, B = Math.round(a.bottom) - 0.5;
    ctx.save();
    ctx.strokeStyle = '#000'; ctx.lineWidth = 1;
    ctx.beginPath();
    ctx.moveTo(L, B); ctx.lineTo(L, T); ctx.lineTo(R, T); ctx.lineTo(R, B);
    const tv = y.ticks.map(t => t.value);
    const sub = (tv[1] - tv[0]) / o.minor;
    const n0 = Math.floor((tv[0] - y.min) / sub + 1e-6);
    for (let i = -n0; ; i++) {
      const v = tv[0] + i * sub;
      if (v > y.max + 1e-9) break;
      const py = Math.round(y.getPixelForValue(v)) + 0.5;
      const major = tv.some(m => Math.abs(m - v) < sub / 100);
      ctx.moveTo(L, py); ctx.lineTo(L + (major ? 22 : 7), py);
    }
    for (let k = Math.ceil(x.min * 3 - 1e-6); k <= x.max * 3; k++) {
      const px = Math.round(x.getPixelForValue(k / 3)) + 0.5;
      ctx.moveTo(px, B); ctx.lineTo(px, B - (k % 3 === 0 ? 10 : 4));
    }
    ctx.stroke();
    ctx.beginPath();
    if (o.dash) ctx.setLineDash([3, 3]);
    ctx.moveTo(L, B); ctx.lineTo(R, B);
    ctx.stroke();
    ctx.restore();
  },
  afterDraw(chart, args, o) {
    if (!o.time) return;
    const { ctx, chartArea: a, scales: { x } } = chart;
    const big = '19px "DejaVu Sans Mono"', small = '13px "DejaVu Sans Mono"';
    const base = a.bottom + 26;
    ctx.save();
    ctx.fillStyle = '#000';
    const width = parts => parts.reduce((w, [s, sup]) => { ctx.font = sup ? small : big; return w + ctx.measureText(s).width + 1; }, 0);
    const draw = (parts, x0) => {
      let cx = x0;
      for (const [s, sup] of parts) {
        ctx.font = sup ? small : big;
        ctx.fillText(s, cx, sup ? base - 10 : base);
        cx += ctx.measureText(s).width + 1;
      }
    };
    for (const h of hourLabels) {
      const parts = [[String(h), false], ['h', true]];
      draw(parts, x.getPixelForValue(h) - width(parts) / 2);
    }
    draw([['8', false], ['h', true], ['0', false], ['m', true], ['0', false], ['s', true]], x.getPixelForValue(8) - 15.5);
    ctx.font = '20px "DejaVu Sans Mono"';
    ctx.fillText(dateLabel, a.left + o.dateDx, a.bottom + 51);
    ctx.restore();
  }
};

const PAD = 14; // room for edge tick labels, keeps the plot area exact
function makePanel(p, col) {
  const c = document.createElement('canvas');
  const padB = p.time ? 1062 - p.y[1] : PAD;
  c.width = col.right + 4 - col.x0;
  c.height = p.y[1] - p.y[0] + PAD + padB;
  c.style.left = col.x0 + 'px';
  c.style.top = (p.y[0] - PAD) + 'px';
  document.body.appendChild(c);
  new Chart(c, {
    type: 'line',
    data: { datasets: p.sets.flat() },
    options: {
      responsive: false, animation: false, events: [],
      layout: { padding: { top: PAD, bottom: padB, left: 0, right: 4 } },
      elements: { line: { tension: 0 }, point: { radius: 0 } },
      plugins: {
        legend: { display: false }, tooltip: { enabled: false },
        rootFrame: { minor: p.minor, dash: !!p.dash, time: !!p.time, dateDx: col.dateDx }
      },
      scales: {
        x: { type: 'linear', display: false, min: col.t[0], max: col.t[1] },
        y: {
          type: 'linear', min: p.r[0], max: p.r[1],
          afterFit: s => { s.width = col.left - col.x0; },
          afterBuildTicks: s => { s.ticks = p.ticks.map(v => ({ value: v })); },
          grid: { display: false, drawTicks: false },
          border: { display: false },
          ticks: { font: { family: 'DejaVu Sans Mono', size: p.big ? 14.5 : 13 }, color: '#000', padding: 2, autoSkip: false, maxRotation: 0, callback: v => String(v) }
        }
      }
    },
    plugins: [rootFrame]
  });
}

// page edges
[[0, 0, 1, 1062], [0, 0, 1806, 1], [902, 0, 2, 1062], [1804, 0, 2, 1062]].forEach(e => {
  const d = document.createElement('div'); d.className = 'edge';
  Object.assign(d.style, { left: e[0] + 'px', top: e[1] + 'px', width: e[2] + 'px', height: e[3] + 'px' });
  document.body.appendChild(d);
});

panelsL.forEach(p => makePanel(p, colL));
panelsR.forEach(p => makePanel(p, colR));

// y axis titles: text, centre x, centre y, size, bold
const titles = [
  ['Luminosity', 52, 204, 11.3], ['I[mA]', 59, 259, 11.3], ['Rep.\nRate[Hz]', 67, 318, 11.3],
  ['Q[nC]', 82, 373, 11.3], ['[mA/s]', 82, 430, 11.3], ['[%]', 66, 484, 10.5],
  ['ECL_BW', 44, 556, 13, 1], ['[ms]', 71, 637, 12.5, 1], ['[Hz]', 82, 717, 10.5],
  ['[uA]', 62, 798, 12.5, 1], ['[mRad/s]', 71, 877, 12.5, 1], ['VXD', 57, 958, 12.5, 1],
  ['Luminosity', 953, 81, 11.3], ['I[mA]', 961, 142, 11.3], ['Rep.\nRate[Hz]', 969.5, 203, 11.3],
  ['Q[nC]', 969, 261, 11.3], ['[mA/s]', 984, 321, 11.3], ['[%]', 969, 379, 10.5],
  ['ECL_FW', 956, 457, 13, 1], ['[ms]', 973, 542, 12.5, 1], ['Photon\nRate', 979.5, 628, 11.3],
  ['[Hz]', 983, 711, 10.5], ['[uA]', 964, 797, 12.5, 1], ['[mRad/s]', 973, 881, 12.5, 1], ['VXD', 959, 967, 12.5, 1]
];
titles.forEach(([t, x, y, s, b]) => {
  const d = document.createElement('div'); d.className = 'ytitle'; d.textContent = t;
  Object.assign(d.style, { left: x + 'px', top: y + 'px', fontSize: s + 'px', fontWeight: b ? 'bold' : 'normal' });
  document.body.appendChild(d);
});

// exponent labels
[['6', 37, 686], ['6', 940, 676], ['5', 939, 591]].forEach(([e, x, y]) => {
  const d = document.createElement('div'); d.className = 'mul';
  d.innerHTML = 'x10<sup>' + e + '</sup>';
  Object.assign(d.style, { left: x + 'px', top: y + 'px' });
  document.body.appendChild(d);
});

// legends: box [x1,y1,x2,y2], rows {k: kind, c: colour, x1, x2 (line) or x1 (dot), y, t, tx}
const legends = [
  { b: [795, 248, 881, 295], rows: [{ k: 'line', c: C.ler, x1: 802, x2: 842, y: 262, t: 'LER', tx: 848 }, { k: 'line', c: C.her, x1: 802, x2: 842, y: 280, t: 'HER', tx: 848 }] },
  { b: [780, 300, 881, 340], big: true, rows: [{ k: 'line', c: C.repL, x1: 787, x2: 827, y: 320, t: 'LER', tx: 833 }] },
  { b: [733, 361, 881, 408], rows: [{ k: 'dot', c: C.q1, x1: 742, y: 375, t: 'QMD11P_1(nC)', tx: 767 }, { k: 'dot', c: C.q2, x1: 742, y: 393, t: 'QMD11P_2(nC)', tx: 767 }] },
  { b: [769, 417, 881, 446], rows: [{ k: 'dot', c: C.inj, x1: 777, y: 431, t: 'Inj.Rate', tx: 803 }] },
  { b: [724, 473, 881, 538], rows: [{ k: 'dot', c: '#000', x1: 732, y: 487, t: 'Inj.Eff(BCM1)', tx: 758 }, { k: 'dot', c: '#888', x1: 732, y: 505, t: 'Inj.Eff(BCM2)', tx: 758 }, { k: '', y: 523, t: 'Inj.Eff', tx: 758 }] },
  { b: [768, 533, 881, 562], rows: [{ k: 'line', c: C.ecl, x1: 775, x2: 815, y: 547.5, t: 'ECL_BW', tx: 820 }] },
  { b: [750, 604, 881, 651], rows: [{ k: 'line', c: C.dur, x1: 757, x2: 797, y: 627, t: 'ECL BG', tx: 802, ty: 618.5 }, { k: '', y: 636, t: 'Duration', tx: 802 }] },
  { b: [750, 693, 881, 722], rows: [{ k: 'line', c: C.top, x1: 757, x2: 797, y: 707.5, t: 'TOP [Hz]', tx: 802 }] },
  { b: [768, 774, 881, 821], rows: [{ k: 'line', c: C.cdc, x1: 775, x2: 815, y: 788, t: 'CDC', tx: 820 }, { k: 'line', c: C.cdcav, x1: 775, x2: 815, y: 806, t: 'CDC_av', tx: 820 }] },
  { b: [759, 854, 881, 883], rows: [{ k: 'line', c: C.dia, x1: 766, x2: 806, y: 868, t: 'Diamond', tx: 811 }] },
  { b: [741, 934, 881, 981], rows: [{ k: 'line', c: C.her, x1: 748, x2: 788, y: 948, t: 'VXD_FW225', tx: 793 }, { k: 'line', c: C.ler, x1: 748, x2: 788, y: 966, t: 'VXD_FW135', tx: 793 }] },

  { b: [1697, 128, 1783, 175], rows: [{ k: 'line', c: C.ler, x1: 1704, x2: 1744, y: 142, t: 'LER', tx: 1749 }, { k: 'line', c: C.her, x1: 1704, x2: 1744, y: 160, t: 'HER', tx: 1749 }] },
  { b: [1682, 183, 1783, 223], big: true, rows: [{ k: 'line', c: C.repR, x1: 1689, x2: 1729, y: 202.5, t: 'HER', tx: 1734 }] },
  { b: [1644, 247, 1783, 294], rows: [{ k: 'dot', c: C.q1, x1: 1652, y: 261, t: 'QMD8E_1(nC)', tx: 1677 }, { k: 'dot', c: C.q2, x1: 1652, y: 279, t: 'QMD8E_2(nC)', tx: 1677 }] },
  { b: [1671, 307, 1783, 336], rows: [{ k: 'dot', c: C.inj, x1: 1679, y: 321, t: 'Inj.Rate', tx: 1704 }] },
  { b: [1626, 366, 1783, 430], rows: [{ k: 'dot', c: '#000', x1: 1634, y: 380, t: 'Inj.Eff(BCM1)', tx: 1659 }, { k: 'dot', c: '#888', x1: 1634, y: 398, t: 'Inj.Eff(BCM2)', tx: 1659 }, { k: '', y: 416, t: 'Inj.Eff', tx: 1659 }] },
  { b: [1671, 430, 1783, 458], rows: [{ k: 'line', c: C.ecl, x1: 1677, x2: 1717, y: 444.5, t: 'ECL_FW', tx: 1722 }] },
  { b: [1652, 506, 1783, 553], rows: [{ k: 'line', c: C.dur, x1: 1659, x2: 1699, y: 529, t: 'ECL BG', tx: 1704, ty: 520 }, { k: '', y: 538, t: 'Duration', tx: 1704 }] },
  { b: [1679, 600, 1783, 647], rows: [{ k: 'line', c: C.sr, x1: 1686, x2: 1726, y: 614, t: 'SR_FW', tx: 1731 }, { k: 'line', c: C.ler, x1: 1686, x2: 1726, y: 632, t: 'SR_BW', tx: 1731 }] },
  { b: [1652, 685, 1783, 714], rows: [{ k: 'line', c: C.top, x1: 1659, x2: 1699, y: 699.5, t: 'TOP [Hz]', tx: 1704 }] },
  { b: [1671, 770, 1783, 817], rows: [{ k: 'line', c: C.cdc, x1: 1677, x2: 1717, y: 784, t: 'CDC', tx: 1722 }, { k: 'line', c: C.cdcav, x1: 1677, x2: 1717, y: 802, t: 'CDC_av', tx: 1722 }] },
  { b: [1661, 856, 1783, 885], rows: [{ k: 'line', c: C.dia, x1: 1668, x2: 1708, y: 870, t: 'Diamond', tx: 1713 }] },
  { b: [1643, 941, 1783, 988], rows: [{ k: 'line', c: C.ler, x1: 1650, x2: 1690, y: 955, t: 'VXD_BW180', tx: 1695 }, { k: 'line', c: C.her, x1: 1650, x2: 1690, y: 973, t: 'VXD_BW270', tx: 1695 }] }
];

function addEl(cls, st, txt) {
  const d = document.createElement('div');
  if (cls) d.className = cls;
  d.style.position = 'absolute';
  Object.assign(d.style, st);
  if (txt) d.textContent = txt;
  document.body.appendChild(d);
  return d;
}
legends.forEach(L => {
  const [x1, y1, x2, y2] = L.b;
  addEl('leg', { left: x1 + 'px', top: y1 + 'px', width: (x2 - x1) + 'px', height: (y2 - y1) + 'px' });
  L.rows.forEach(r => {
    if (r.k === 'line') addEl('', { left: r.x1 + 'px', top: (r.y - 0.75) + 'px', width: (r.x2 - r.x1) + 'px', height: '1.5px', background: r.c });
    if (r.k === 'dot') addEl('', { left: (r.x1 - 2.5) + 'px', top: (r.y - 2.5) + 'px', width: '5px', height: '5px', borderRadius: '50%', background: r.c });
    const t = addEl('lt', { left: r.tx + 'px', top: (r.ty || r.y) + 'px' }, r.t);
    if (L.big) Object.assign(t.style, { fontFamily: '"Liberation Sans", sans-serif', fontSize: '25px', letterSpacing: '-0.5px' });
  });
});
</script>
</body>
</html>
